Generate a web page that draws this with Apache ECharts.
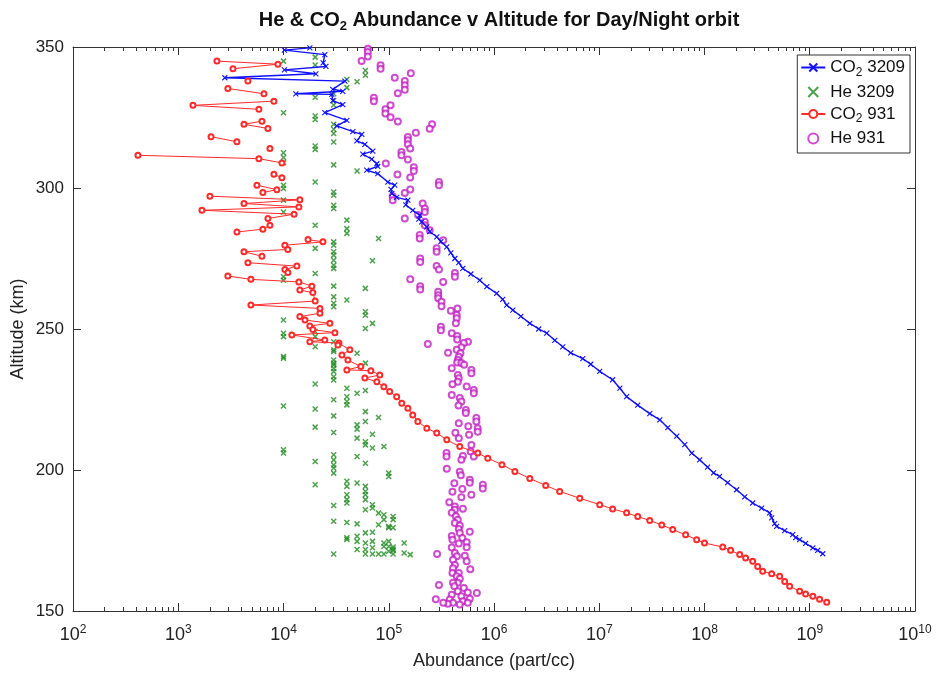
<!DOCTYPE html>
<html>
<head>
<meta charset="utf-8">
<script src="https://cdn.jsdelivr.net/npm/echarts@6/dist/echarts.min.js"></script>
<style>
html, body { margin: 0; padding: 0; background: #fff; }
#chart { width: 938px; height: 673px; }
</style>
</head>
<body>
<div id="chart"></div>
<script>
// values: [abundance (part/cc), altitude (km)]
const GAP = [NaN, NaN]; // MATLAB NaN -> break in the line

const co2_3209 = [
    [1.78e4, 349.7], [1.02e4, 348.9], [2.47e4, 347.3], [2.38e4, 344.4], [2.53e4, 343.1], [1.02e4, 341.9],
    [2.03e4, 340.5], [2.77e3, 339.1], [3.83e4, 337.9], [2.94e4, 335.0], [3.66e4, 334.3], [1.31e4, 333.4],
    [2.88e4, 333.2], [2.94e4, 331.0], [3.66e4, 329.6], [2.47e4, 326.7], [4.0e4, 324.0], [3.21e4, 322.0],
    [4.56e4, 320.0], [5.55e4, 319.0], [4.98e4, 316.7], [5.93e4, 315.5], [7.06e4, 313.1], [5.67e4, 312.0],
    [6.9e4, 310.2], [7.71e4, 308.6], [7.87e4, 307.7], [6.19e4, 306.3], [7.87e4, 305.1], [9.8e4, 302.1],
    [1.14e5, 301.0], [1.05e5, 299.5], [1.07e5, 298.0], [1.19e5, 296.7], [1.52e5, 295.7], [1.45e5, 294.0],
    [1.69e5, 292.1], [1.97e5, 290.4], [1.93e5, 289.0], [2.06e5, 288.0], [2.30e5, 286.2], [2.45e5, 284.5],
    [2.86e5, 282.7], [3.13e5, 281.0], [3.56e5, 279.1], [3.89e5, 277.0], [4.25e5, 275.0], [4.63e5, 273.5],
    [5.06e5, 271.5], [6.03e5, 269.5], [7.33e5, 267.3], [8.55e5, 265.0], [1.06e6, 262.6], [1.21e6, 260.5],
    [1.32e6, 258.5], [1.51e6, 256.7], [1.80e6, 254.5], [2.19e6, 252.0], [2.66e6, 250.0], [3.17e6, 248.5],
    [3.78e6, 246.0], [4.50e6, 243.7], [5.36e6, 241.5], [6.97e6, 239.5], [8.30e6, 237.5], [1.01e7, 235.0],
    [1.34e7, 232.0], [1.57e7, 229.0], [1.82e7, 226.0], [2.32e7, 223.0], [3.02e7, 220.0], [3.76e7, 217.8],
    [4.48e7, 215.0], [5.45e7, 212.0], [6.49e7, 209.0], [7.57e7, 206.0], [9.0e7, 203.6], [1.07e8, 201.0],
    [1.22e8, 199.0], [1.39e8, 197.7], [1.66e8, 195.5], [2.02e8, 193.0], [2.41e8, 190.5], [2.87e8, 188.3],
    [3.49e8, 186.5], [4.16e8, 184.8], [4.35e8, 183.0], [4.64e8, 181.0], [4.85e8, 180.0], [5.78e8, 178.5],
    [6.89e8, 177.1], [7.35e8, 176.0], [8.02e8, 175.3], [9.14e8, 174.0], [1.07e9, 172.4], [1.19e9, 171.5],
    [1.33e9, 170.3]
];

const he_3209 = [
    [1e4, 345.0], [1e4, 326.7], [1e4, 312.5], [1e4, 310.8], [1e4, 309.0], [1e4, 301.0], [1e4, 299.8],
    [1e4, 295.7], [1e4, 291.5], [1e4, 268.5], [1e4, 267.3], [1e4, 253.2], [1e4, 248.5], [1e4, 247.3],
    [1e4, 240.2], [1e4, 239.6], [1e4, 222.7], [1e4, 207.2], [1e4, 206.0],
    [2e4, 346.4], [2e4, 343.6], [2e4, 332.2], [2e4, 325.5], [2e4, 324.3], [2e4, 314.9], [2e4, 313.7],
    [2e4, 302.1], [2e4, 286.8], [2e4, 278.6], [2e4, 269.7], [2e4, 249.1], [2e4, 247.3], [2e4, 243.7],
    [2e4, 230.5], [2e4, 221.6], [2e4, 215.2], [2e4, 203.0], [2e4, 194.8],
    [3e4, 333.4], [3e4, 331.0], [3e4, 329.4], [3e4, 322.6], [3e4, 320.8], [3e4, 319.3], [3e4, 316.3],
    [3e4, 308.2], [3e4, 298.6], [3e4, 297.4], [3e4, 293.9], [3e4, 292.7], [3e4, 280.9], [3e4, 279.7],
    [3e4, 277.4], [3e4, 276.2], [3e4, 274.4], [3e4, 272.6], [3e4, 271.5], [3e4, 265.2], [3e4, 261.4],
    [3e4, 259.1], [3e4, 257.9], [3e4, 245.5], [3e4, 242.6], [3e4, 242.0], [3e4, 239.0], [3e4, 237.9],
    [3e4, 237.2], [3e4, 236.0], [3e4, 234.9], [3e4, 233.1], [3e4, 231.9], [3e4, 224.9], [3e4, 219.2],
    [3e4, 213.3], [3e4, 205.4], [3e4, 203.6], [3e4, 201.8], [3e4, 200.7], [3e4, 198.9], [3e4, 187.4],
    [3e4, 181.8], [3e4, 170.2],
    [4e4, 338.5], [4e4, 335.6], [4e4, 288.6], [4e4, 285.6], [4e4, 283.9], [4e4, 260.3], [4e4, 229.0],
    [4e4, 226.0], [4e4, 224.3], [4e4, 223.1], [4e4, 196.0], [4e4, 194.2], [4e4, 191.2], [4e4, 189.5],
    [4e4, 188.3], [4e4, 181.4], [4e4, 176.0], [4e4, 175.4],
    [5e4, 337.7], [5e4, 306.0], [5e4, 241.4], [5e4, 227.2], [5e4, 216.0], [5e4, 214.5], [5e4, 211.3],
    [5e4, 204.8], [5e4, 195.4], [5e4, 180.9], [5e4, 176.5], [5e4, 174.7], [5e4, 171.8],
    [6e4, 341.7], [6e4, 340.0], [6e4, 264.4], [6e4, 256.1], [6e4, 254.9], [6e4, 250.2], [6e4, 237.9],
    [6e4, 228.2], [6e4, 220.7], [6e4, 217.2], [6e4, 210.0], [6e4, 208.9], [6e4, 202.4], [6e4, 194.2],
    [6e4, 192.4], [6e4, 191.2], [6e4, 189.5], [6e4, 185.9], [6e4, 177.7], [6e4, 174.1], [6e4, 171.8],
    [6e4, 170.2],
    [7e4, 274.2], [7e4, 252.0], [7e4, 212.7], [7e4, 207.8], [7e4, 187.7], [7e4, 186.5], [7e4, 177.9],
    [7e4, 174.7], [7e4, 172.4], [7e4, 170.2],
    [8e4, 282.1], [8e4, 218.6], [8e4, 184.7], [8e4, 180.6], [8e4, 170.2],
    [9e4, 208.3], [9e4, 184.1], [9e4, 182.4], [9e4, 174.1], [9e4, 172.9], [9e4, 170.2],
    [1e5, 198.9], [1e5, 197.7], [1e5, 180.0], [1e5, 179.5], [1e5, 174.7], [1e5, 172.9], [1e5, 171.2],
    [1.1e5, 183.5], [1.1e5, 182.4], [1.1e5, 179.5], [1.1e5, 172.7], [1.1e5, 172.0], [1.1e5, 171.5], [1.1e5, 170.2],
    [1.4e5, 174.1], [1.4e5, 170.6], [1.6e5, 170.0]
];

const co2_931 = [
    [2.33e3, 345.0], [8.85e3, 343.9], [3.31e3, 342.3], GAP,
    [4.59e3, 337.9], GAP,
    [2.96e3, 335.3], [6.52e3, 333.4], GAP,
    [8.11e3, 330.8], [1.38e3, 329.3], [5.84e3, 327.9], GAP,
    [6.24e3, 323.7], [4.21e3, 322.6], [7.11e3, 321.1], GAP,
    [2.05e3, 318.2], [3.61e3, 316.4], GAP,
    [7.43e3, 314.0], GAP,
    [4.14e2, 311.6], [5.84e3, 310.4], [9.66e3, 308.9], GAP,
    [8.11e3, 304.9], [9.66e3, 303.6], GAP,
    [5.59e3, 301.0], [8.65e3, 299.4], [6.37e3, 298.4], GAP,
    [2.0e3, 297.1], [1.43e4, 295.8], [4.21e3, 294.5], [1.40e4, 293.3], [1.68e3, 292.1], [1.26e4, 290.7],
    [7.11e3, 289.2], GAP,
    [7.43e3, 286.8], [6.37e3, 285.4], [3.61e3, 284.4], GAP,
    [1.71e4, 281.7], [2.37e4, 280.9], [1.03e4, 279.7], [1.10e4, 278.2], [4.21e3, 277.4], [6.24e3, 275.8], GAP,
    [4.59e3, 273.5], [1.34e4, 272.3], [1.03e4, 271.1], [1.10e4, 270.0], GAP,
    [2.96e3, 268.8], [4.90e3, 267.6], [1.40e4, 266.7], [1.86e4, 265.2], [1.43e4, 263.8], [1.90e4, 262.9],
    [2.0e4, 259.9], [4.90e3, 258.5], [2.22e4, 257.3], [2.22e4, 255.6], [1.43e4, 254.4], [1.60e4, 253.2],
    [2.76e4, 252.0], [1.78e4, 251.1], [1.90e4, 249.8], [3.08e4, 248.7], [1.20e4, 247.9], [2.47e4, 246.1],
    [1.78e4, 245.5], [3.36e4, 245.0], [3.29e4, 244.3], [4.27e4, 242.6], [3.59e4, 240.8], [4.09e4, 239.0],
    [5.43e4, 236.7], [4.0e4, 235.5], [6.76e4, 235.2], [8.22e4, 233.7], [5.93e4, 232.6], [7.71e4, 231.3],
    [8.98e4, 229.5], [1.02e5, 227.8], [1.19e5, 226.0], [1.33e5, 223.7], [1.52e5, 221.9], [1.69e5, 219.5],
    [1.89e5, 217.2], [2.30e5, 214.8], [2.86e5, 213.1], [3.56e5, 210.7], [4.73e5, 208.3], [7.02e5, 206.0],
    [8.73e5, 204.2], [1.19e6, 201.9], [1.58e6, 199.5], [2.19e6, 197.0], [3.10e6, 194.5], [4.21e6, 192.4],
    [6.53e6, 190.0], [1.01e7, 187.7], [1.34e7, 186.2], [1.82e7, 184.8], [2.32e7, 183.5], [3.02e7, 182.1],
    [3.93e7, 180.5], [4.99e7, 178.9], [6.62e7, 177.0], [8.43e7, 175.3], [1.0e8, 174.1], [1.49e8, 172.7],
    [1.77e8, 171.5], [2.16e8, 170.0], [2.46e8, 168.8], [2.87e8, 167.6], [3.2e8, 165.8], [3.57e8, 164.1],
    [4.35e8, 163.2], [5.18e8, 162.3], [5.78e8, 160.5], [6.44e8, 158.8], [8.02e8, 157.0], [9.14e8, 156.0],
    [1.07e9, 155.2], [1.24e9, 154.2], [1.45e9, 153.1]
];

const he_931 = [
    [6.33e4, 349.4], [6.33e4, 348.2], [6.33e4, 346.6], [5.52e4, 345.0], [8.36e4, 343.5], [8.36e4, 342.3],
    [1.62e5, 340.7], [1.14e5, 339.1], [1.42e5, 337.9], [1.42e5, 336.4], [1.42e5, 334.8], [1.22e5, 333.6],
    [7.22e4, 332.0], [7.22e4, 330.8], [1.04e5, 329.3], [9.3e4, 327.9], [9.3e4, 326.4], [1.04e5, 325.1],
    [1.22e5, 323.6], [2.58e5, 322.6], [2.45e5, 321.0], [1.81e5, 319.6], [1.52e5, 318.1], [1.52e5, 316.9],
    [1.52e5, 315.5], [1.60e5, 314.0], [1.32e5, 312.8], [1.32e5, 311.6], [1.52e5, 310.1], [9.38e4, 308.7],
    [1.73e5, 307.4], [1.73e5, 306.0], [1.21e5, 304.8], [1.60e5, 303.7], [3.0e5, 302.1], [3.0e5, 301.0],
    [1.60e5, 299.5], [1.42e5, 298.2], [1.09e5, 297.1], [1.09e5, 295.7], [2.10e5, 294.5], [2.20e5, 292.7],
    [2.20e5, 291.5], [1.90e5, 290.4], [1.42e5, 289.2], [2.20e5, 288.0], [2.20e5, 286.8], [2.45e5, 285.0],
    [1.97e5, 283.3], [1.97e5, 282.1], [3.29e5, 281.5], [2.85e5, 278.6], [2.85e5, 277.4], [1.99e5, 275.0],
    [1.99e5, 273.8], [2.85e5, 272.3], [3.0e5, 271.1], [4.25e5, 269.9], [4.25e5, 268.5], [1.60e5, 267.6],
    [3.29e5, 266.7], [1.99e5, 265.2], [1.99e5, 264.0], [2.95e5, 263.2], [2.95e5, 262.0], [2.95e5, 260.9],
    [3.17e5, 259.7], [3.17e5, 258.1], [4.5e5, 257.3], [3.89e5, 256.5], [4.42e5, 255.0], [4.42e5, 253.8],
    [4.34e5, 252.0], [3.13e5, 250.8], [3.13e5, 249.6], [3.97e5, 248.5], [4.47e5, 247.5], [4.47e5, 246.3],
    [5.66e5, 245.5], [5.17e5, 245.0], [2.35e5, 244.7], [4.9e5, 243.5], [4.42e5, 242.6], [3.66e5, 241.6],
    [4.8e5, 241.4], [4.63e5, 240.2], [4.53e5, 239.0], [4.47e5, 238.1], [4.9e5, 237.9], [5.2e5, 237.3],
    [3.97e5, 236.1], [6.1e5, 235.5], [6.1e5, 234.3], [4.53e5, 233.7], [4.63e5, 232.5], [4.53e5, 231.3],
    [4.03e5, 230.4], [5.5e5, 229.6], [6.43e5, 228.4], [6.43e5, 227.2], [3.97e5, 226.6], [4.73e5, 225.5],
    [4.9e5, 224.3], [4.6e5, 222.9], [5.4e5, 221.3], [5.4e5, 220.2], [6.8e5, 218.4], [6.8e5, 217.2],
    [4.63e5, 216.6], [5.7e5, 215.5], [7.0e5, 214.8], [7.0e5, 213.6], [4.3e5, 213.2], [5.8e5, 212.5],
    [4.63e5, 211.3], [6.1e5, 208.9], [3.54e5, 206.0], [3.54e5, 204.8], [6.0e5, 206.6], [5.06e5, 205.0],
    [6.43e5, 204.8], [4.9e5, 203.6], [3.56e5, 200.4], [4.73e5, 199.4], [4.84e5, 198.1], [5.89e5, 196.5],
    [5.89e5, 195.5], [7.83e5, 194.8], [7.83e5, 193.4], [4.2e5, 195.3], [5.0e5, 193.3], [4.03e5, 192.3],
    [6.1e5, 191.2], [4.9e5, 190.3], [3.76e5, 188.6], [4.25e5, 187.1], [4.25e5, 185.9], [5.06e5, 186.3],
    [3.97e5, 184.8], [4.34e5, 183.6], [4.53e5, 182.4], [4.25e5, 181.2], [4.73e5, 180.3], [4.63e5, 179.1],
    [5.89e5, 178.1], [4.73e5, 177.7], [3.97e5, 176.6], [4.03e5, 175.3], [5.0e5, 175.9], [5.5e5, 174.4],
    [5.5e5, 172.6], [4.63e5, 173.9], [3.97e5, 172.5], [2.88e5, 170.2], [4.25e5, 170.6], [4.44e5, 169.4],
    [4.08e5, 168.2], [5.28e5, 169.6], [5.5e5, 167.6], [4.25e5, 166.3], [4.08e5, 165.2], [5.95e5, 164.8],
    [4.03e5, 163.5], [4.63e5, 163.5], [4.42e5, 162.3], [4.73e5, 161.4], [4.53e5, 160.0], [4.08e5, 160.0],
    [4.2e5, 158.8], [3.0e5, 159.2], [5.17e5, 158.2], [4.53e5, 157.0], [5.64e5, 156.6], [6.87e5, 156.4],
    [3.97e5, 155.8], [4.9e5, 155.2], [3.8e5, 154.1], [2.8e5, 154.2], [5.89e5, 154.3], [5.06e5, 153.5],
    [4.08e5, 152.9], [3.64e5, 152.6], [3.3e5, 152.9], [4.73e5, 152.3], [5.64e5, 152.9]
];

const seriesNames = ['CO2 3209', 'He 3209', 'CO2 931', 'He 931'];
const xMin = 1e2, xMax = 1e10;
const yMin = 150, yMax = 350, yStep = 50;

// log minor ticks 2..9 x 10^k
const minorTicks = [];
for (let k = 2; k < 10; k++) {
    for (let m = 2; m < 10; m++) minorTicks.push(m * Math.pow(10, k));
}

const FONT = '"Liberation Sans", Arial, Helvetica, sans-serif';
const AXIS_COLOR = '#333';
const xMark = 'path://M0,0L10,10M10,0L0,10';

const chart = echarts.init(document.getElementById('chart'));

function subName(name) {
    return name.indexOf('CO2') === 0
        ? '{n|CO}{sub|2}{n|' + name.slice(3) + '}'
        : '{n|' + name + '}';
}

function logAxis(position, withLabels, minor) {
    return {
        type: 'log',
        logBase: 10,
        position: position,
        min: xMin,
        max: xMax,
        gridIndex: 0,
        name: withLabels ? 'Abundance (part/cc)' : '',
        nameLocation: 'middle',
        nameGap: 41,
        nameTextStyle: { fontFamily: FONT, fontSize: 18, color: '#222' },
        axisLine: { show: !minor, onZero: false, lineStyle: { color: AXIS_COLOR, width: 1 } },
        axisTick: minor
            ? { show: true, inside: true, length: 4, customValues: minorTicks, lineStyle: { color: AXIS_COLOR } }
            : { show: true, inside: true, length: 8, lineStyle: { color: AXIS_COLOR } },
        axisLabel: {
            show: withLabels,
            margin: 13,
            formatter: v => '{b|10}{s|' + Math.round(Math.log10(v)) + '}',
            rich: {
                b: { fontFamily: FONT, fontSize: 18, color: '#222' },
                s: { fontFamily: FONT, fontSize: 12, color: '#222', padding: [0, 0, 10, 0] }
            }
        },
        splitLine: { show: false },
        minorTick: { show: false }
    };
}

function valAxis(position, withLabels) {
    return {
        type: 'value',
        position: position,
        min: yMin,
        max: yMax,
        interval: yStep,
        name: withLabels ? 'Altitude (km)' : '',
        nameLocation: 'middle',
        nameGap: 46,
        nameMoveOverlap: false,
        nameTextStyle: { fontFamily: FONT, fontSize: 18, color: '#222' },
        axisLine: { show: true, onZero: false, lineStyle: { color: AXIS_COLOR, width: 1 } },
        axisTick: { show: true, inside: true, length: 8, lineStyle: { color: AXIS_COLOR } },
        axisLabel: { show: withLabels, margin: 9, fontFamily: FONT, fontSize: 17, color: '#222' },
        splitLine: { show: false }
    };
}

const option = {
    animation: false,
    backgroundColor: '#fff',
    title: {
        text: '{t|He & CO}{s|2}{t| Abundance v Altitude for Day/Night orbit}',
        left: 494,
        top: 3,
        textAlign: 'center',
        textStyle: {
            rich: {
                t: { fontFamily: FONT, fontSize: 20, fontWeight: 'bold', color: '#111' },
                s: { fontFamily: FONT, fontSize: 13, fontWeight: 'bold', color: '#111', padding: [12, 0, 0, 0] }
            }
        }
    },
    legend: {
        data: seriesNames,
        orient: 'vertical',
        right: 28,
        top: 55,
        selectedMode: false,
        backgroundColor: '#fff',
        borderColor: '#333',
        borderWidth: 1,
        borderRadius: 0,
        padding: [4, 5, 6, 3],
        itemGap: 5,
        itemWidth: 24,
        itemHeight: 10,
        formatter: subName,
        textStyle: {
            rich: {
                n: { fontFamily: FONT, fontSize: 17, color: '#111' },
                sub: { fontFamily: FONT, fontSize: 12, color: '#111', padding: [10, 0, 0, 0] }
            }
        }
    },
    grid: {
        left: 73,
        right: 23,
        top: 47,
        bottom: 62,
        containLabel: false,
        outerBoundsMode: 'none'
    },
    xAxis: [
        logAxis('bottom', true, false),
        logAxis('bottom', false, true),
        logAxis('top', false, false),
        logAxis('top', false, true)
    ],
    yAxis: [
        valAxis('left', true),
        valAxis('right', false)
    ],
    series: [
        {
            name: seriesNames[0],
            type: 'line',
            data: co2_3209,
            showSymbol: true,
            showAllSymbol: true,
            symbol: xMark,
            symbolSize: 5,
            connectNulls: false,
            lineStyle: { color: '#1010ff', width: 1.4 },
            itemStyle: { color: 'rgba(0,0,0,0)', borderColor: '#1010ff', borderWidth: 1.1 }
        },
        {
            name: seriesNames[1],
            type: 'scatter',
            data: he_3209,
            symbol: xMark,
            symbolSize: 5,
            itemStyle: { color: 'rgba(0,0,0,0)', borderColor: '#1f8a1f', borderWidth: 1.5 }
        },
        {
            name: seriesNames[2],
            type: 'line',
            data: co2_931,
            showSymbol: true,
            showAllSymbol: true,
            symbol: 'emptyCircle',
            symbolSize: 5,
            connectNulls: false,
            lineStyle: { color: '#ff2a2a', width: 1 },
            itemStyle: { color: '#ff2a2a', borderWidth: 1 }
        },
        {
            name: seriesNames[3],
            type: 'scatter',
            data: he_931,
            symbol: 'emptyCircle',
            symbolSize: 6,
            itemStyle: { color: '#c21fc2', borderColor: '#c21fc2', borderWidth: 1.2 }
        }
    ]
};

chart.setOption(option);
</script>
</body>
</html>
